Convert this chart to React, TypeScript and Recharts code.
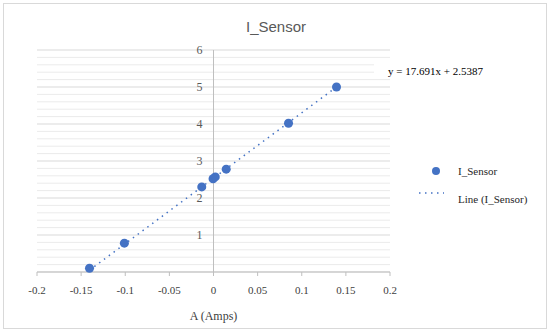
import { ScatterChart, Scatter, XAxis, YAxis, ZAxis, CartesianGrid, ReferenceLine, Label } from 'recharts'

// measured points (A, V)
const SENSOR_X = [-0.1405, -0.101, -0.0133, -0.0005, 0.002, 0.0144, 0.085, 0.1394]
const SENSOR_Y = [0.1, 0.78, 2.3, 2.52, 2.57, 2.78, 4.02, 5.0]

// linear trendline end points, as drawn
const TREND_X = [-0.1405, 0.1394]
const TREND_Y = [0.05, 5.0]

const X_TICKS = [-0.2, -0.15, -0.1, -0.05, 0, 0.05, 0.1, 0.15, 0.2]
const Y_TICKS = [0, 1, 2, 3, 4, 5, 6]
const Y_MINOR = Array.from({ length: 30 }, (_, i) => Math.round((i + 1) * 2) / 10).filter((v) => v % 1 !== 0)

const TITLE = 'I_Sensor'
const X_LABEL = 'A (Amps)'
const EQUATION = 'y = 17.691x + 2.5387'
const SERIES_NAME = 'I_Sensor'
const TREND_NAME = 'Line (I_Sensor)'

const W = 550
const H = 334
const MARGIN = { top: 50, right: 160, bottom: 0, left: 0 }
const Y_AXIS_W = 37
const X_AXIS_H = 62
const ZERO_X = Y_AXIS_W + (W - Y_AXIS_W - MARGIN.right) / 2

const BLUE = '#4472C4'
const SERIF = '"Liberation Serif", "Times New Roman", serif'

const data = SENSOR_X.map((x, i) => ({ x, y: SENSOR_Y[i] }))

function YTick(props: any) {
  const { y, payload } = props
  if (payload.value === 0) return <g />
  return (
    <text x={ZERO_X - 11} y={y} dy="0.35em" textAnchor="end" fontSize={12} fontFamily={SERIF} fill="#595959">
      {payload.value}
    </text>
  )
}

function XTick(props: any) {
  const { x, y, payload } = props
  return (
    <text x={x} y={y} dy="0.71em" textAnchor="middle" fontSize={11} fontFamily={SERIF} fill="#404040">
      {payload.value}
    </text>
  )
}

export default function App() {
  return (
    <div style={{ position: 'absolute', left: 0, top: 0, width: W, height: H, background: '#fff' }}>
      <div
        style={{
          position: 'absolute',
          left: 3,
          top: 3,
          width: 542,
          height: 324,
          border: '1px solid #d9d9d9',
        }}
      />
      <div
        style={{
          position: 'absolute',
          left: 0,
          width: W + 2,
          top: 18,
          textAlign: 'center',
          fontFamily: '"Liberation Sans", Arial, sans-serif',
          fontSize: 15,
          color: '#595959',
        }}
      >
        {TITLE}
      </div>
      <ScatterChart width={W} height={H} margin={MARGIN} style={{ position: 'absolute', left: 0, top: 0 }}>
        <CartesianGrid horizontal vertical={false} stroke="#d9d9d9" />
        {Y_MINOR.map((v) => (
          <ReferenceLine key={v} y={v} stroke="#ebebeb" />
        ))}
        <XAxis
          type="number"
          dataKey="x"
          domain={[-0.2, 0.2]}
          ticks={X_TICKS}
          height={X_AXIS_H}
          stroke="#bfbfbf"
          tickSize={4}
          tickMargin={10}
          tick={<XTick />}
        >
          <Label value={X_LABEL} position="insideBottom" offset={14} fontSize={12} fontFamily={SERIF} fill="#404040" />
        </XAxis>
        <YAxis
          type="number"
          dataKey="y"
          domain={[0, 6]}
          ticks={Y_TICKS}
          width={Y_AXIS_W}
          axisLine={false}
          tickLine={false}
          tick={<YTick />}
        />
        <ZAxis range={[48, 48]} />
        <ReferenceLine x={0} stroke="#bfbfbf" />
        <ReferenceLine
          segment={[
            { x: TREND_X[0], y: TREND_Y[0] },
            { x: TREND_X[1], y: TREND_Y[1] },
          ]}
          stroke={BLUE}
          strokeWidth={1.5}
          strokeDasharray="1.5 4.5"
        />
        <Scatter name={SERIES_NAME} data={data} fill={BLUE} isAnimationActive={false} />
      </ScatterChart>
      <div
        style={{
          position: 'absolute',
          left: 374,
          top: 64,
          paddingLeft: 14,
          background: '#fff',
          fontFamily: SERIF,
          fontSize: 11,
          color: '#000',
          lineHeight: '14px',
        }}
      >
        {EQUATION}
      </div>
      <div style={{ position: 'absolute', left: 416, top: 162, fontFamily: SERIF, fontSize: 11, color: '#262626' }}>
        <div style={{ display: 'flex', alignItems: 'center', height: 18 }}>
          <svg width={30} height={18} style={{ marginRight: 12 }}>
            <circle cx={20} cy={9} r={4} fill={BLUE} />
          </svg>
          <span>{SERIES_NAME}</span>
        </div>
        <div style={{ display: 'flex', alignItems: 'center', height: 18, marginTop: 10 }}>
          <svg width={30} height={18} style={{ marginRight: 12 }}>
            <line x1={3} y1={3} x2={28} y2={3} stroke={BLUE} strokeWidth={1.5} strokeDasharray="1.5 4.5" />
          </svg>
          <span>{TREND_NAME}</span>
        </div>
      </div>
    </div>
  )
}
